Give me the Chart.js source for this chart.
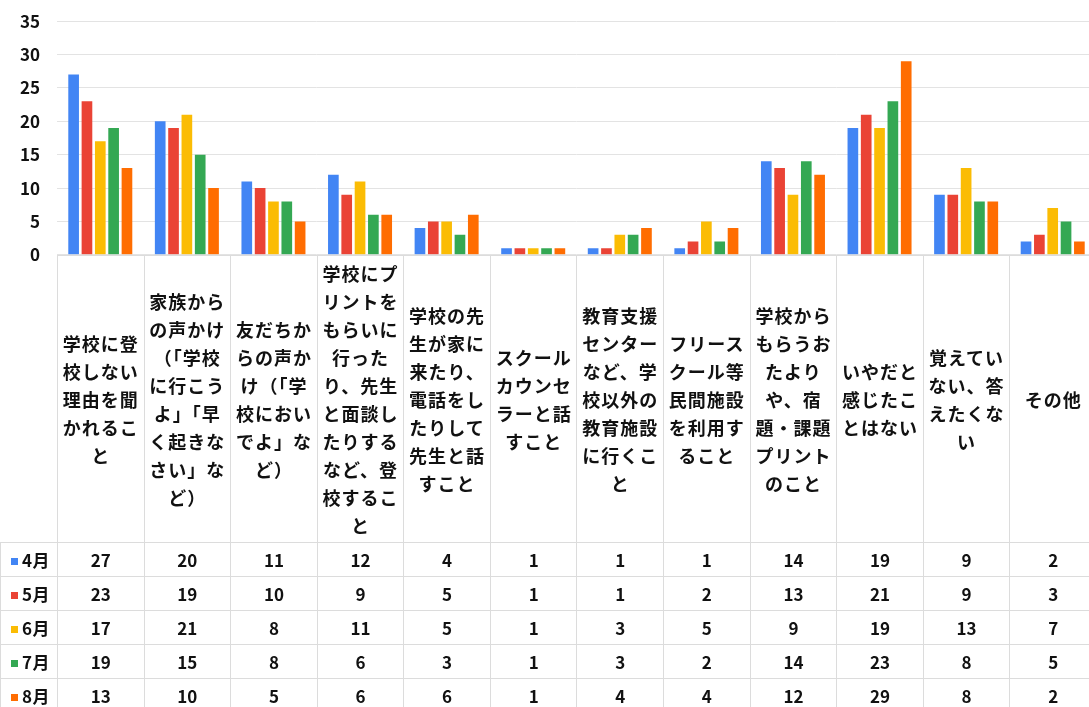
<!DOCTYPE html>
<html lang="ja">
<head>
<meta charset="utf-8">
<script src="https://cdn.jsdelivr.net/npm/chart.js@4.4.1/dist/chart.umd.min.js"></script>
<style>
  html, body { margin: 0; padding: 0; background: #fff; overflow: hidden; }
  #wrap { position: relative; width: 1096px; height: 707px; }
  #chartBox { position: absolute; left: 0; top: -6px; width: 1096px; height: 288px; }
  #chartBox canvas { display: block; }
  table {
    position: absolute; top: 255px; left: 0;
    border-collapse: collapse; table-layout: fixed;
    font-family: "Noto Sans CJK JP", "Noto Sans", sans-serif;
    font-weight: bold; color: #111;
  }
  td { border: 1px solid #dcdcdc; padding: 0; text-align: center; vertical-align: middle; }
  tr.head td { height: 286px; font-size: 18px; line-height: 28px; letter-spacing: 1px; }
  tr.head td.corner { border-top: none; border-left: none; }
  tr.row td { height: 33px; font-size: 17px; }
  td.lab { text-align: left; padding-left: 10px; font-size: 17px; white-space: nowrap; letter-spacing: 0.5px; }
  .sw { display: inline-block; width: 7px; height: 7px; margin-right: 4px; vertical-align: 2px; }
</style>
</head>
<body>
<div id="wrap">
  <div id="chartBox"><canvas id="chart" width="1096" height="288"></canvas></div>
  <table id="tbl"></table>
</div>
<script>
// ---- データ ----
var months = ['4月', '5月', '6月', '7月', '8月'];

// 項目名（表の見出しの改行位置どおり）
var categoryLines = [
    ['学校に登', '校しない', '理由を聞', 'かれるこ', 'と'],
    ['家族から', 'の声かけ', '（「学校', 'に行こう', 'よ」「早', 'く起きな', 'さい」な', 'ど）'],
    ['友だちか', 'らの声か', 'け（「学', '校におい', 'でよ」な', 'ど）'],
    ['学校にプ', 'リントを', 'もらいに', '行った', 'り、先生', 'と面談し', 'たりする', 'など、登', '校するこ', 'と'],
    ['学校の先', '生が家に', '来たり、', '電話をし', 'たりして', '先生と話', 'すこと'],
    ['スクール', 'カウンセ', 'ラーと話', 'すこと'],
    ['教育支援', 'センター', 'など、学', '校以外の', '教育施設', 'に行くこ', 'と'],
    ['フリース', 'クール等', '民間施設', 'を利用す', 'ること'],
    ['学校から', 'もらうお', 'たより', 'や、宿', '題・課題', 'プリント', 'のこと'],
    ['いやだと', '感じたこ', 'とはない'],
    ['覚えてい', 'ない、答', 'えたくな', 'い'],
    ['その他']
];

var apr = [27, 20, 11, 12, 4, 1, 1, 1, 14, 19, 9, 2];
var may = [23, 19, 10, 9, 5, 1, 1, 2, 13, 21, 9, 3];
var jun = [17, 21, 8, 11, 5, 1, 3, 5, 9, 19, 13, 7];
var jul = [19, 15, 8, 6, 3, 1, 3, 2, 14, 23, 8, 5];
var aug = [13, 10, 5, 6, 6, 1, 4, 4, 12, 29, 8, 2];

var yTicks = [0, 5, 10, 15, 20, 25, 30, 35];

var seriesValues = [apr, may, jun, jul, aug];
var colors = ['#4285f4', '#ea4335', '#fbbc04', '#34a853', '#ff6d01'];

// ---- グラフ ----
var ctx = document.getElementById('chart').getContext('2d');

var chart = new Chart(ctx, {
    type: 'bar',
    data: {
        labels: categoryLines.map(function(l) { return l.join(''); }),
        datasets: months.map(function(m, i) {
            return {
                label: m,
                data: seriesValues[i],
                backgroundColor: colors[i],
                categoryPercentage: 0.77,
                barPercentage: 0.8
            };
        })
    },
    options: {
        responsive: false,
        animation: false,
        layout: { padding: { top: 21, right: 0, bottom: 1, left: 0 } },
        plugins: {
            legend: { display: false },
            tooltip: { enabled: false }
        },
        scales: {
            x: { display: false },
            y: {
                min: yTicks[0],
                max: yTicks[yTicks.length - 1],
                afterBuildTicks: function(scale) {
                    scale.ticks = yTicks.map(function(v) { return { value: v }; });
                },
                afterFit: function(scale) { scale.width = 57; },
                border: { display: false },
                grid: { color: '#e3e3e3', lineWidth: 1, drawTicks: false },
                ticks: {
                    padding: 17,
                    color: '#111',
                    font: { family: '"Noto Sans CJK JP", "Noto Sans", sans-serif', size: 17, weight: 'bold' }
                }
            }
        }
    }
});

// ---- 表（グラフのx軸の位置に合わせて作る） ----
function buildTable() {
    var xs = chart.scales.x;
    var n = categoryLines.length;
    var colW = (xs.right - xs.left) / n;
    var tbl = document.getElementById('tbl');
    var html = '<colgroup><col style="width:' + xs.left + 'px">';
    for (var i = 0; i < n; i++) html += '<col style="width:' + colW + 'px">';
    html += '</colgroup>';

    html += '<tr class="head"><td class="corner"></td>';
    categoryLines.forEach(function(lines) {
        html += '<td>' + lines.join('<br>') + '</td>';
    });
    html += '</tr>';

    months.forEach(function(m, s) {
        html += '<tr class="row"><td class="lab"><span class="sw" style="background:' + colors[s] + '"></span>' + m + '</td>';
        seriesValues[s].forEach(function(v) { html += '<td>' + v + '</td>'; });
        html += '</tr>';
    });
    tbl.innerHTML = html;
    tbl.style.width = xs.right + 'px';
}
buildTable();
</script>
</body>
</html>
